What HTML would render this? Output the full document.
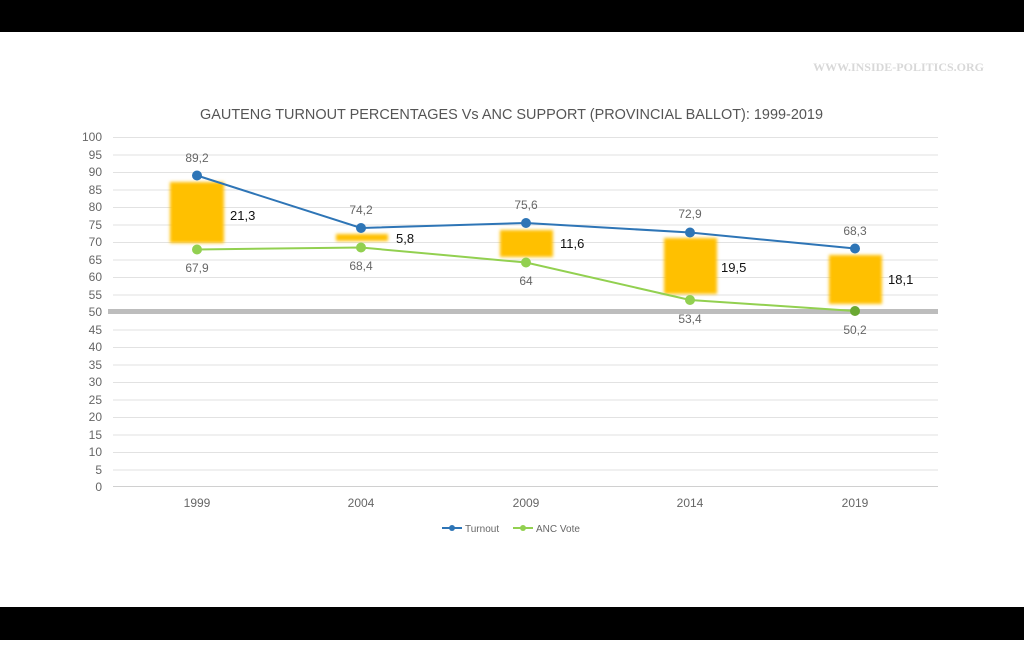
<!DOCTYPE html>
<html><head><style>
body{margin:0;width:1024px;height:640px;background:#fff;overflow:hidden;font-family:"Liberation Sans",sans-serif}
</style></head><body>
<svg width="1024" height="640" xmlns="http://www.w3.org/2000/svg" font-family="Liberation Sans, sans-serif">
<defs><filter id="b" x="-20%" y="-20%" width="140%" height="140%"><feGaussianBlur stdDeviation="1.5"/></filter></defs>
<rect x="0" y="0" width="1024" height="32" fill="#000"/>
<rect x="0" y="607" width="1024" height="33" fill="#000"/>
<text x="984" y="71" text-anchor="end" font-family="Liberation Serif, serif" font-size="12" font-weight="bold" fill="#d8d8d8">WWW.INSIDE-POLITICS.ORG</text>
<text x="200" y="119" font-size="15" fill="#555" textLength="623" lengthAdjust="spacingAndGlyphs">GAUTENG TURNOUT PERCENTAGES Vs ANC SUPPORT (PROVINCIAL BALLOT): 1999-2019</text>
<g stroke="#e2e2e2" stroke-width="1">
<line x1="113" x2="938" y1="137.5" y2="137.5"/><line x1="113" x2="938" y1="155" y2="155"/><line x1="113" x2="938" y1="172.5" y2="172.5"/><line x1="113" x2="938" y1="190" y2="190"/><line x1="113" x2="938" y1="207.5" y2="207.5"/><line x1="113" x2="938" y1="225" y2="225"/><line x1="113" x2="938" y1="242.5" y2="242.5"/><line x1="113" x2="938" y1="260" y2="260"/><line x1="113" x2="938" y1="277.5" y2="277.5"/><line x1="113" x2="938" y1="295" y2="295"/><line x1="113" x2="938" y1="330" y2="330"/><line x1="113" x2="938" y1="347.5" y2="347.5"/><line x1="113" x2="938" y1="365" y2="365"/><line x1="113" x2="938" y1="382.5" y2="382.5"/><line x1="113" x2="938" y1="400" y2="400"/><line x1="113" x2="938" y1="417.5" y2="417.5"/><line x1="113" x2="938" y1="435" y2="435"/><line x1="113" x2="938" y1="452.5" y2="452.5"/><line x1="113" x2="938" y1="470" y2="470"/>
</g>
<line x1="113" x2="938" y1="486.5" y2="486.5" stroke="#d0d0d0"/>
<g font-size="12" fill="#666" text-anchor="end">
<text x="102" y="141">100</text><text x="102" y="159">95</text><text x="102" y="176">90</text><text x="102" y="194">85</text><text x="102" y="211">80</text><text x="102" y="229">75</text><text x="102" y="246">70</text><text x="102" y="264">65</text><text x="102" y="281">60</text><text x="102" y="299">55</text><text x="102" y="316">50</text><text x="102" y="334">45</text><text x="102" y="351">40</text><text x="102" y="369">35</text><text x="102" y="386">30</text><text x="102" y="404">25</text><text x="102" y="421">20</text><text x="102" y="439">15</text><text x="102" y="456">10</text><text x="102" y="474">5</text><text x="102" y="491">0</text>
</g>
<rect x="108" y="309" width="830" height="5" fill="#bdbdbd"/>
<g fill="#ffc000" filter="url(#b)">
<rect x="170" y="182" width="54" height="61"/>
<rect x="336" y="234" width="52" height="7"/>
<rect x="500" y="230" width="53" height="27"/>
<rect x="664" y="238" width="53" height="56"/>
<rect x="829" y="255" width="53" height="49"/>
</g>
<polyline points="197,175.5 361,228 526,223 690,232.5 855,248.5" fill="none" stroke="#2e75b6" stroke-width="2"/>
<polyline points="197,249.5 361,247.5 526,262.5 690,300 855,311" fill="none" stroke="#92d050" stroke-width="2"/>
<g fill="#2e75b6"><circle cx="197" cy="175.5" r="5"/><circle cx="361" cy="228" r="5"/><circle cx="526" cy="223" r="5"/><circle cx="690" cy="232.5" r="5"/><circle cx="855" cy="248.5" r="5"/></g>
<g fill="#92d050"><circle cx="197" cy="249.5" r="5"/><circle cx="361" cy="247.5" r="5"/><circle cx="526" cy="262.5" r="5"/><circle cx="690" cy="300" r="5"/><circle cx="855" cy="311" r="5" fill="#6aa832"/></g>
<g font-size="12" fill="#666" text-anchor="middle">
<text x="197" y="162">89,2</text><text x="361" y="214">74,2</text><text x="526" y="209">75,6</text><text x="690" y="218">72,9</text><text x="855" y="235">68,3</text>
<text x="197" y="272">67,9</text><text x="361" y="270">68,4</text><text x="526" y="285">64</text><text x="690" y="323">53,4</text><text x="855" y="334">50,2</text>
</g>
<g font-size="13" fill="#111">
<text x="230" y="220">21,3</text><text x="396" y="243">5,8</text><text x="560" y="248">11,6</text><text x="721" y="272">19,5</text><text x="888" y="284">18,1</text>
</g>
<g font-size="12" fill="#666" text-anchor="middle">
<text x="197" y="507">1999</text><text x="361" y="507">2004</text><text x="526" y="507">2009</text><text x="690" y="507">2014</text><text x="855" y="507">2019</text>
</g>
<line x1="442" x2="462" y1="528" y2="528" stroke="#2e75b6" stroke-width="2"/><circle cx="452" cy="528" r="3" fill="#2e75b6"/>
<text x="465" y="532" font-size="10" fill="#666">Turnout</text>
<line x1="513" x2="533" y1="528" y2="528" stroke="#92d050" stroke-width="2"/><circle cx="523" cy="528" r="3" fill="#92d050"/>
<text x="536" y="532" font-size="10" fill="#666">ANC Vote</text>
</svg>
</body></html>
